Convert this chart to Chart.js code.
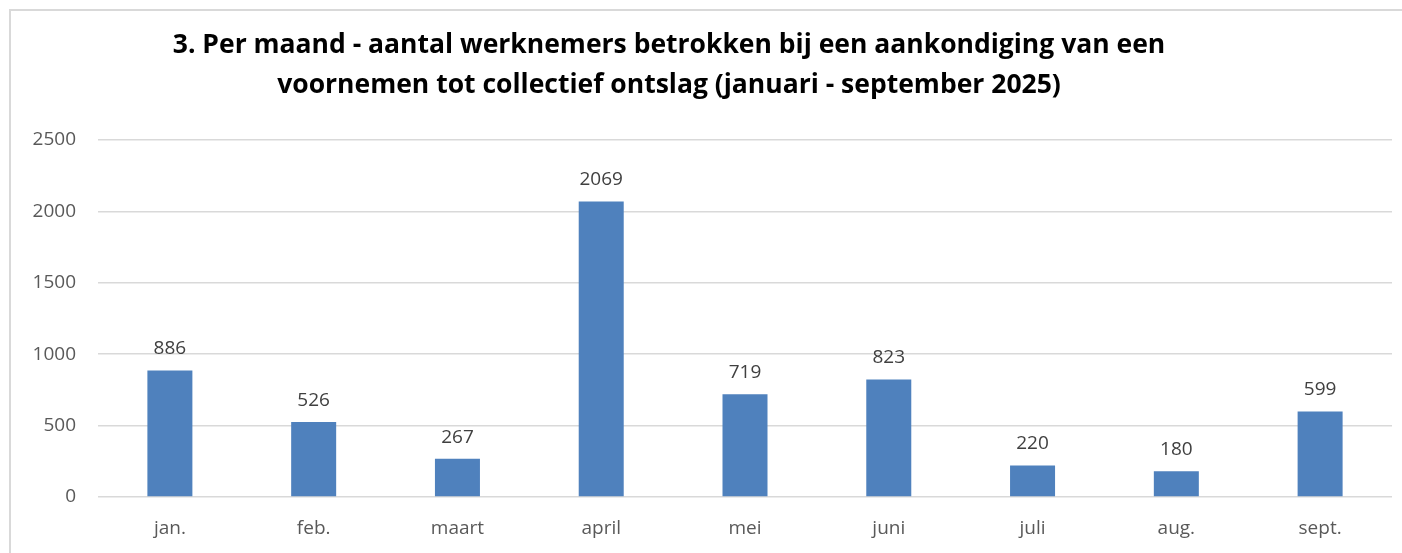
<!DOCTYPE html>
<html>
<head>
<meta charset="utf-8">
<script src="https://cdn.jsdelivr.net/npm/chart.js@4"></script>
<style>
  html, body { margin: 0; padding: 0; background: #fff; }
  #wrap { position: relative; width: 1402px; height: 553px; overflow: hidden; }
  #frame { position: absolute; left: 9px; top: 9px; width: 1400px; height: 600px;
           border-top: 2px solid #d9d9d9; border-left: 2px solid #d9d9d9; }
  canvas { position: absolute; left: 0; top: 0; }
</style>
</head>
<body>
<div id="wrap">
  <div id="frame"></div>
  <canvas id="chart" width="1402" height="553"></canvas>
</div>
<script>
// Maanden en aantallen werknemers
const months = ['jan.', 'feb.', 'maart', 'april', 'mei', 'juni', 'juli', 'aug.', 'sept.'];
const workers = [886, 526, 267, 2069, 719, 823, 220, 180, 599];
const yTicks = [0, 500, 1000, 1500, 2000, 2500];
const titleLines = [
  '3. Per maand - aantal werknemers betrokken bij een aankondiging van een',
  'voornemen tot collectief ontslag (januari - september 2025)'
];

const fontFamily = '"Open Sans", "Liberation Sans", sans-serif';

// Titel iets links van het midden, zoals in het origineel
const chartTitle = {
  id: 'chartTitle',
  afterDraw(chart) {
    const ctx = chart.ctx;
    ctx.save();
    ctx.font = 'bold 26.5px ' + fontFamily;
    ctx.fillStyle = '#000';
    ctx.textAlign = 'center';
    ctx.textBaseline = 'middle';
    titleLines.forEach((line, i) => ctx.fillText(line, 669, 45 + i * 40));
    ctx.restore();
  }
};

// Waarden boven de staven
const valueLabels = {
  id: 'valueLabels',
  afterDatasetsDraw(chart) {
    const ctx = chart.ctx;
    const meta = chart.getDatasetMeta(0);
    ctx.save();
    ctx.font = '19px ' + fontFamily;
    ctx.fillStyle = '#404040';
    ctx.textAlign = 'center';
    ctx.textBaseline = 'bottom';
    meta.data.forEach((bar, i) => {
      ctx.fillText(workers[i], bar.x, bar.y - 12);
    });
    ctx.restore();
  }
};

Chart.defaults.font.family = fontFamily;

new Chart(document.getElementById('chart'), {
  type: 'bar',
  data: {
    labels: months,
    datasets: [{
      data: workers,
      backgroundColor: '#4f81bd',
      barPercentage: 0.313,
      categoryPercentage: 1
    }]
  },
  options: {
    responsive: false,
    animation: false,
    layout: { padding: { left: 0, right: 10, top: 140, bottom: 0 } },
    plugins: {
      legend: { display: false },
      tooltip: { enabled: false },
      title: { display: false }
    },
    scales: {
      x: {
        grid: { display: false },
        border: { display: false },
        ticks: { color: '#595959', font: { size: 19 }, padding: 12 },
        afterFit(scale) { scale.height = 56; }
      },
      y: {
        min: 0,
        max: 2500,
        afterBuildTicks(scale) { scale.ticks = yTicks.map(v => ({ value: v })); },
        grid: { color: '#d9d9d9', lineWidth: 1.5, drawTicks: false },
        border: { display: false },
        ticks: {
          color: '#595959',
          font: { size: 19 },
          padding: 22,
          callback: v => String(v)
        },
        afterFit(scale) { scale.width = 98; }
      }
    }
  },
  plugins: [valueLabels, chartTitle]
});
</script>
</body>
</html>
